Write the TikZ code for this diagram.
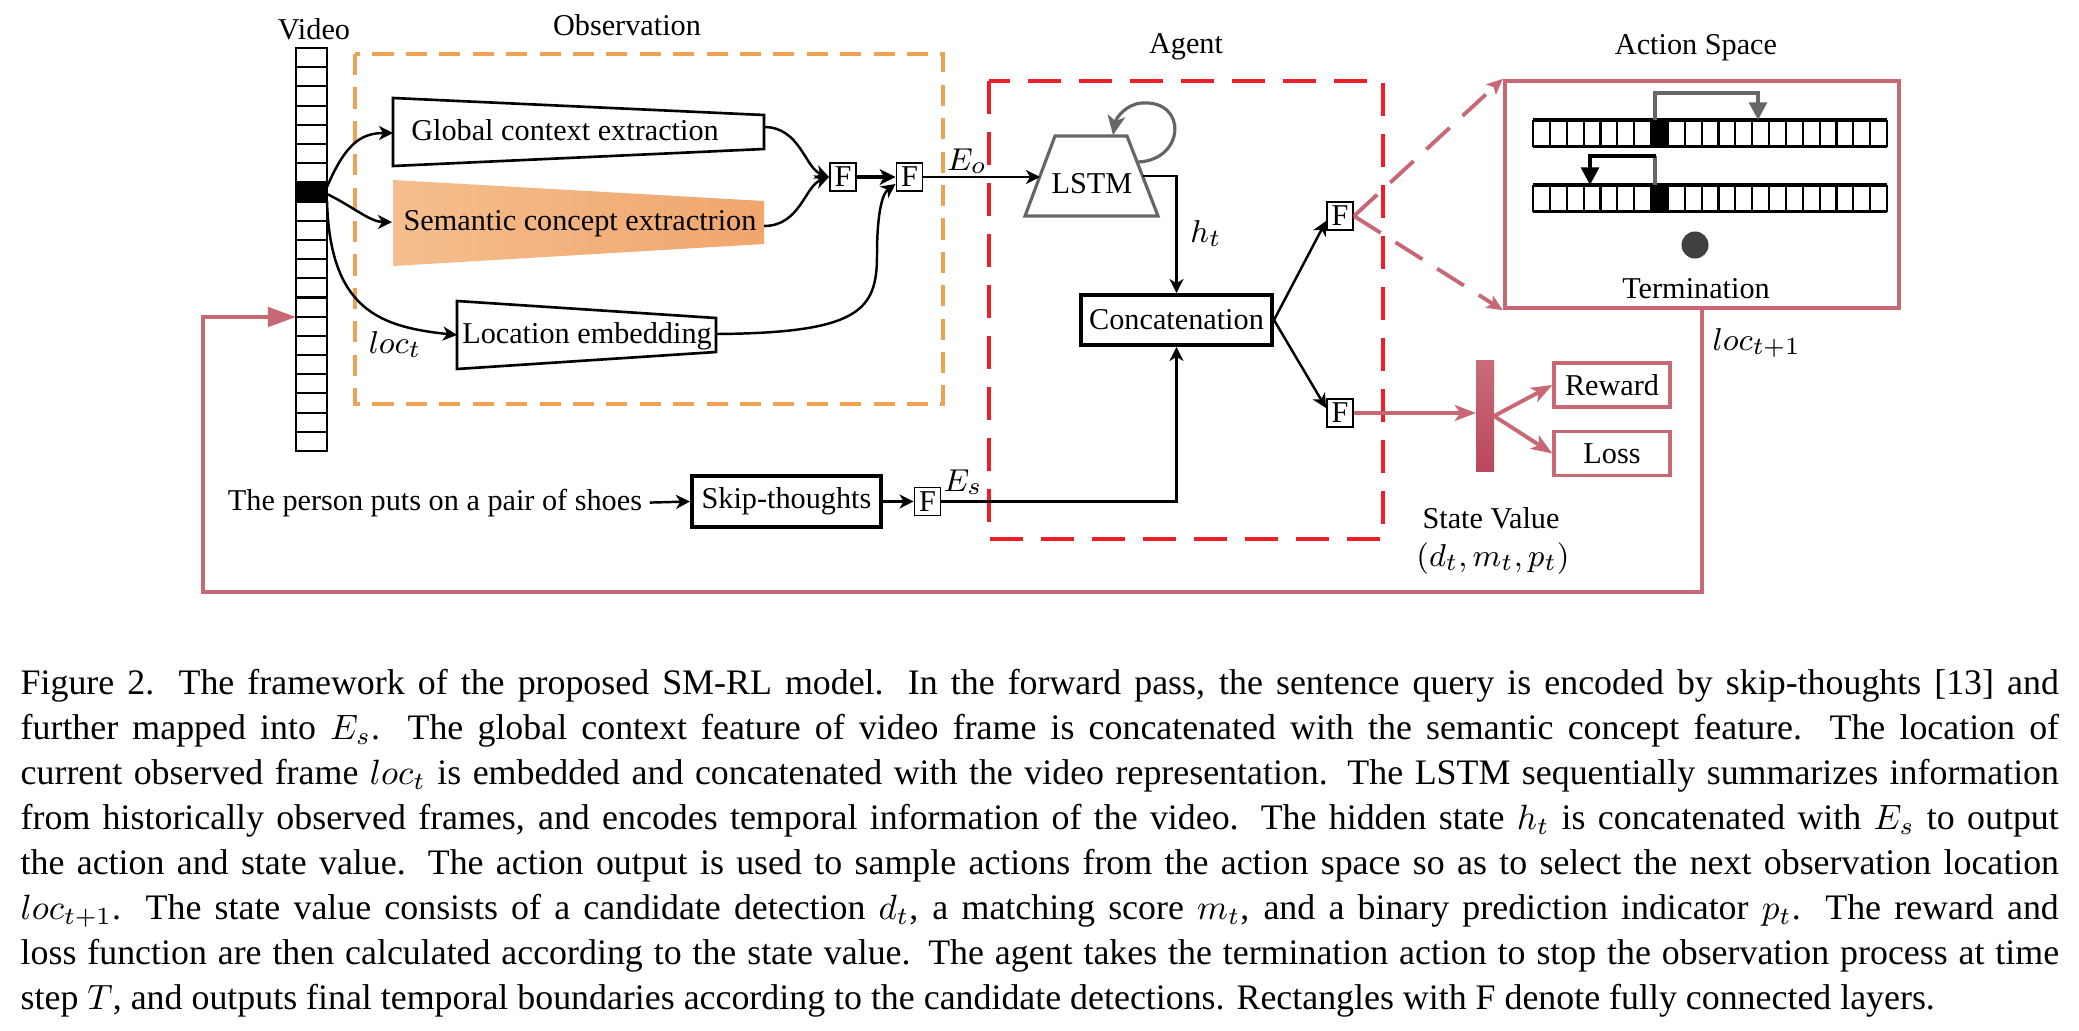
\documentclass[tikz,border=0pt]{standalone}
\usepackage{fontspec}
\setmainfont{Liberation Serif}
\usetikzlibrary{arrows.meta,calc}
\definecolor{obsorange}{RGB}{240,162,84}
\definecolor{agentred}{RGB}{236,30,42}
\definecolor{pinkc}{RGB}{200,104,116}
\definecolor{semL}{RGB}{245,190,142}
\definecolor{semR}{RGB}{240,166,108}
\definecolor{barT}{RGB}{202,108,120}
\definecolor{barB}{RGB}{184,72,90}
\definecolor{lstmgray}{RGB}{102,102,102}
\definecolor{dotgray}{RGB}{64,64,66}
\begin{document}
\begin{tikzpicture}[x=0.01cm,y=-0.01cm,
  lbl/.style={font=\fontsize{8.6}{10}\selectfont, inner sep=0pt},
  mlbl/.style={font=\fontsize{9.4}{10}\selectfont, inner sep=0pt},
  fbox/.style={draw=black, line width=0.55pt, fill=white, minimum width=0.26cm, minimum height=0.28cm, inner sep=0pt, font=\fontsize{8.6}{10}\selectfont},
  thickbox/.style={draw=black, line width=1.1pt, fill=white, inner sep=0pt, font=\fontsize{8.6}{10}\selectfont},
  pinkbox/.style={draw=pinkc, line width=0.9pt, fill=white, inner sep=0pt, minimum width=1.16cm, minimum height=0.44cm, font=\fontsize{8.6}{10}\selectfont},
  conn/.style={line width=0.7pt, draw=black},
  arr/.style={conn, -{Stealth[length=4pt,width=4pt,inset=1.2pt]}},
  trap/.style={draw=black, line width=0.75pt, fill=white, line join=miter},
  pinkline/.style={draw=pinkc, line width=1.1pt},
  pinkarr/.style={pinkline, -{Stealth[length=6pt,width=4.5pt,inset=1.5pt]}},
  pinkdash/.style={pinkline, dash pattern=on 9pt off 5pt, -{Stealth[length=4.5pt,width=4pt,inset=1pt]}},
  capline/.style={anchor=base west, inner sep=0pt, font=\fontsize{10.2}{12.8}\selectfont},
]
\path[use as bounding box, fill=white] (0,0) rectangle (2079,1030);

% ---------- Video strip ----------
\node[lbl, anchor=base] (video) at (314,39) {Video};
\fill[black] (296,182.3) rectangle (327,201.5);
\foreach \i in {0,...,21} \draw[line width=0.6pt] (296,48+\i*19.19) -- (327,48+\i*19.19);
\draw[line width=0.75pt] (296,48) rectangle (327,451);
\coordinate (vcellA) at (327,187);
\coordinate (vcellB) at (327,194);
\coordinate (vcellC) at (327,201);
\coordinate (vin) at (296,317);

% ---------- Observation ----------
\draw[obsorange, line width=1pt, dash pattern=on 6pt off 3.5pt] (355,54) rectangle (943,404);
\node[lbl, anchor=base] (obs) at (627,35) {Observation};

\draw[trap] (393,98) -- (764,115) -- (764,149) -- (393,166) -- cycle;
\node[lbl, anchor=base] (glob) at (565,140) {Global context extraction};
\shade[left color=semL, right color=semR] (393,180) -- (764,201) -- (764,244) -- (393,266) -- cycle;
\node[lbl, anchor=base] (sem) at (580,230) {Semantic concept extractrion};
\draw[trap] (457,301) -- (716,318) -- (716,352) -- (457,369) -- cycle;
\node[lbl, anchor=base] (loc) at (587,343) {Location embedding};
\node[mlbl, anchor=base] (loct) at (395,353) {$loc_t$};

\coordinate (globin) at (393,133);
\coordinate (globout) at (764,127);
\coordinate (semin) at (392,222);
\coordinate (semout) at (764,226);
\coordinate (locin) at (457,335);
\coordinate (locout) at (716,334);

\node[fbox] (f1) at (843,177) {F};
\node[fbox] (f2) at (909.5,177) {F};

\draw[arr] (vcellA) .. controls (345,145) and (360,133) .. (globin);
\draw[arr] (vcellB) .. controls (352,206) and (370,222) .. (semin);
\draw[arr] (vcellC) .. controls (330,310) and (380,327) .. (locin);
\draw[arr] (globout) .. controls (800,127) and (805,168) .. (f1.west);
\draw[arr] (semout) .. controls (800,226) and (805,186) .. (f1.west);
\draw[conn, line width=1.2pt, -{Stealth[length=4.5pt,width=4.5pt,inset=1.2pt]}] (f1) -- (f2);
\draw[arr] (locout) .. controls (860,333) and (877,310) .. (877,255) .. controls (877,210) and (883,193) .. ($(f2.west)+(0,7)$);

% ---------- Agent ----------
\draw[agentred, line width=1.4pt, dash pattern=on 9.4pt off 5.1pt] (989,81) rectangle (1383,539);
\node[lbl, anchor=base] (agent) at (1186,53) {Agent};

\draw[lstmgray, line width=0.9pt, fill=white, line join=miter] (1025,216) -- (1055,136) -- (1127,136) -- (1158,216) -- cycle;
\node[lbl, anchor=base] (lstm) at (1092,193) {LSTM};
\draw[lstmgray, line width=0.9pt, -{Stealth[length=5.5pt,width=5pt,inset=1.5pt]}] (1138,162) .. controls (1185,160) and (1188,100) .. (1142,103) .. controls (1126,104) and (1116,118) .. (1113,135);
\coordinate (lstmin) at (1040,177);
\coordinate (lstmout) at (1142.5,176);

\draw[arr] (f2.east) -- (lstmin);
\node[mlbl, anchor=base] (eo) at (967,170) {$E_o$};

\node[thickbox, minimum width=1.91cm, minimum height=0.5cm] (concat) at (1176.5,320) {Concatenation};
\draw[arr] (lstmout) -| (concat.north);
\node[mlbl, anchor=base] (ht) at (1206,242) {$h_t$};

% ---------- Sentence ----------
\node[lbl, anchor=base] (sent) at (435,510) {The person puts on a pair of shoes};
\node[thickbox, minimum width=1.89cm, minimum height=0.51cm] (skip) at (786.5,501.5) {Skip-thoughts};
\node[fbox] (f3) at (927.5,501.5) {F};
\draw[arr] ($(sent.east)+(7,0)$) -- (skip.west);
\draw[arr] (skip.east) -- (f3.west);
\draw[arr] (f3.east) -| (concat.south);
\node[mlbl, anchor=base] (es) at (963,491) {$E_s$};

\node[fbox] (f4) at (1340,216) {F};
\node[fbox] (f5) at (1340,413) {F};
\draw[arr] (concat.east) -- ($(f4.west)+(0,5)$);
\draw[arr] (concat.east) -- ($(f5.west)+(0,-5)$);

% ---------- Action space ----------
\node[lbl, anchor=base] (astitle) at (1696,54) {Action Space};
\node[draw=pinkc, line width=1.2pt, minimum width=3.94cm, minimum height=2.27cm, inner sep=0pt] (aspace) at (1702,194.5) {};
\draw[pinkdash] (f4.east) -- (aspace.north west);
\draw[pinkdash] (f4.east) -- (aspace.south west);

\foreach \yy in {120,185} {
  \fill[black] (1651,\yy) rectangle ++(16.857,26.5);
  \foreach \i in {0,...,21} \draw[line width=0.6pt] (1533+\i*16.857,\yy) -- ++(0,26.5);
  \draw[line width=1.1pt] (1533,\yy) -- (1887,\yy);
  \draw[line width=1.1pt] (1533,\yy+26.5) -- (1887,\yy+26.5);
}
\coordinate (cellA) at (1655,120);
\coordinate (cellB) at (1758,120);
\coordinate (cellC) at (1655,185);
\coordinate (cellD) at (1590,185);
\draw[lstmgray, line width=1.1pt, -{Triangle[length=5pt,width=5pt]}] (cellA) -- (1655,93) -| (cellB);
\draw[lstmgray, line width=1.1pt] (cellC) -- (1655,156);
\draw[black, line width=1.1pt, -{Triangle[length=5pt,width=5pt]}] (1656,156) -| (cellD);
\node[circle, fill=dotgray, minimum size=0.27cm, inner sep=0pt] (dot) at (1695,245) {};
\node[lbl, anchor=base] (term) at (1696,298) {Termination};

% ---------- feedback loop ----------
\draw[pinkline, -{Triangle[length=8pt,width=5.5pt]}] (aspace.south) -- (1702,592) -| (203,317) -- (vin);
\node[mlbl, anchor=base west] (loct1) at (1712,350) {$loc_{t+1}$};

% ---------- State value ----------
\shade[top color=barT, bottom color=barB] (1476,360) rectangle (1494,471);
\coordinate (barW) at (1476,413);
\coordinate (barE) at (1494,416);
\node[pinkbox] (reward) at (1612,385) {Reward};
\node[pinkbox] (loss) at (1612,453.5) {Loss};
\draw[pinkarr] (f5.east) -- (barW);
\draw[pinkarr] (barE) -- (reward.west);
\draw[pinkarr] (barE) -- (loss.west);
\node[lbl, anchor=base] (sv) at (1491,528) {State Value};
\node[mlbl, anchor=base] (svm) at (1493,566) {$(d_t,m_t,p_t)$};

% ---------- caption ----------
\node[capline] (c1) at (20,694) {\makebox[20.37cm][s]{Figure 2. The framework of the proposed SM-RL model.  In the forward pass, the sentence query is encoded by skip-thoughts [13] and}};
\node[capline] (c2) at (20,739) {\makebox[20.37cm][s]{further mapped into $E_s$.  The global context feature of video frame is concatenated with the semantic concept feature.  The location of}};
\node[capline] (c3) at (20,784) {\makebox[20.37cm][s]{current observed frame $loc_t$ is embedded and concatenated with the video representation. The LSTM sequentially summarizes information}};
\node[capline] (c4) at (20,829) {\makebox[20.37cm][s]{from historically observed frames, and encodes temporal information of the video. The hidden state $h_t$ is concatenated with $E_s$ to output}};
\node[capline] (c5) at (20,874) {\makebox[20.37cm][s]{the action and state value.  The action output is used to sample actions from the action space so as to select the next observation location}};
\node[capline] (c6) at (20,919) {\makebox[20.37cm][s]{$loc_{t+1}$. The state value consists of a candidate detection $d_t$, a matching score $m_t$, and a binary prediction indicator $p_t$.  The reward and}};
\node[capline] (c7) at (20,964) {\makebox[20.37cm][s]{loss function are then calculated according to the state value. The agent takes the termination action to stop the observation process at time}};
\node[capline] (c8) at (20,1009) {step $T$, and outputs final temporal boundaries according to the candidate detections. Rectangles with F denote fully connected layers.};
\end{tikzpicture}
\end{document}
